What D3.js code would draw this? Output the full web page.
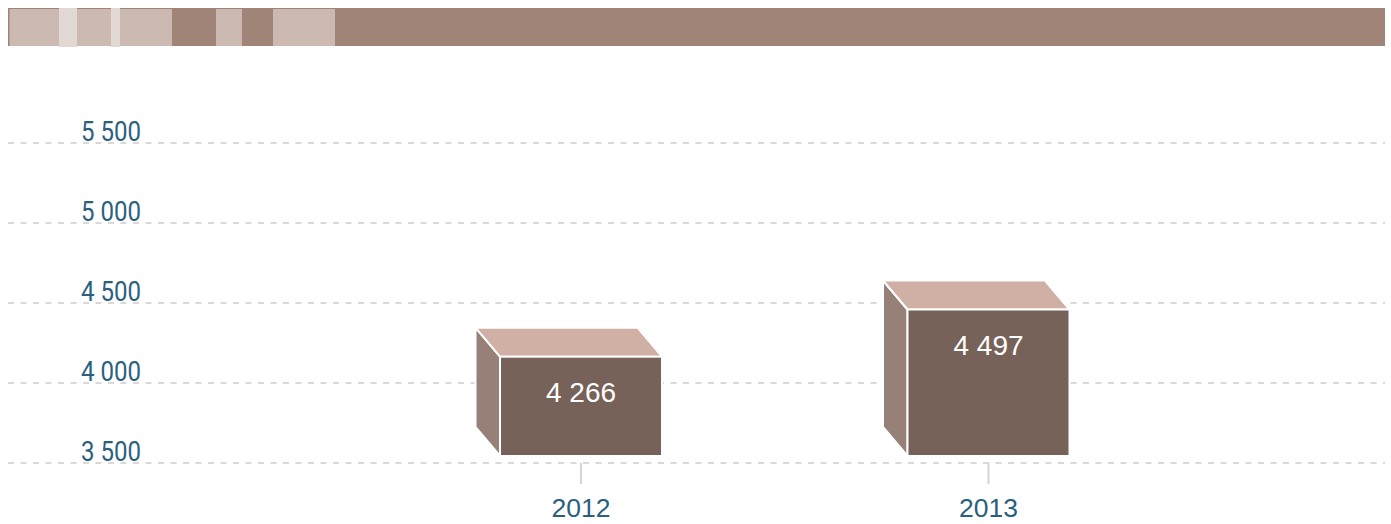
<!DOCTYPE html>
<html>
<head>
<meta charset="utf-8">
<script src="https://cdn.jsdelivr.net/npm/d3@7"></script>
<style>
  html, body { margin: 0; padding: 0; background: #fff; }
  svg { display: block; }
</style>
</head>
<body>
<svg id="chart" width="1391" height="524"></svg>
<script>
    // data
    var years = ["2012", "2013"];
    var values = [4266, 4497];
    var valueLabels = ["4 266", "4 497"];
    var yTicks = [3500, 4000, 4500, 5000, 5500];
    var yTickLabels = ["3 500", "4 000", "4 500", "5 000", "5 500"];

    var svg = d3.select("#chart"),
        depthX = 24.5,
        depthY = 29,
        barWidth = 162;

    // header banner (decoration)
    var banner = svg.append("g").attr("class", "banner");
    banner.append("rect").attr("x", 8).attr("y", 8).attr("width", 1377).attr("height", 38).attr("fill", "#a18478");
    [[8, 59, "#cbb9b2"], [59, 18, "#e3d9d4"], [77, 34, "#cbb9b2"], [111, 9, "#e3d9d4"],
     [120, 52, "#cbb9b2"], [216, 26, "#cbb9b2"], [273, 62, "#cbb9b2"]].forEach(function (s) {
        banner.append("rect")
            .attr("x", s[0]).attr("y", s[2] === "#e3d9d4" ? 8 : 9)
            .attr("width", s[1]).attr("height", s[2] === "#e3d9d4" ? 39 : 37)
            .attr("fill", s[2]);
    });
    banner.append("rect").attr("x", 8).attr("y", 8).attr("width", 1.5).attr("height", 38).attr("fill", "#a18478");

    // scales
    var x = d3.scalePoint().domain(years).range([581, 988.5]);
    var y = d3.scaleLinear().domain([3500, 5500]).range([463, 143]);
    var yBar = d3.scaleLinear().domain([3780, 4497]).range([456, 309.5]);

    // grid lines
    var grid = svg.append("g").attr("class", "grid");
    grid.selectAll("line").data(yTicks).enter().append("line")
        .attr("x1", 8).attr("x2", 1385)
        .attr("y1", function (d) { return y(d); })
        .attr("y2", function (d) { return y(d); })
        .attr("stroke", "#d9d9d9")
        .attr("stroke-width", 2)
        .attr("stroke-dasharray", "6,6.5");

    grid.selectAll("text").data(yTicks).enter().append("text")
        .attr("x", 81)
        .attr("y", function (d) { return y(d) - 2; })
        .attr("font-family", "Roboto, 'Liberation Sans Narrow', sans-serif")
        .attr("font-size", 28)
        .attr("textLength", 60)
        .attr("lengthAdjust", "spacingAndGlyphs")
        .attr("fill", "#2b5f7e")
        .text(function (d, i) { return yTickLabels[i]; });

    // x axis ticks and labels
    var xAxis = svg.append("g").attr("class", "x-axis");
    xAxis.selectAll("line").data(years).enter().append("line")
        .attr("x1", function (d) { return x(d); })
        .attr("x2", function (d) { return x(d); })
        .attr("y1", 463).attr("y2", 484)
        .attr("stroke", "#d4d4d4")
        .attr("stroke-width", 2);
    xAxis.selectAll("text").data(years).enter().append("text")
        .attr("x", function (d) { return x(d); })
        .attr("y", 517)
        .attr("text-anchor", "middle")
        .attr("font-family", "'Liberation Sans', Arial, sans-serif")
        .attr("font-size", 26.5)
        .attr("fill", "#2b5f7e")
        .text(function (d) { return d; });

    // 3D boxes
    var bars = svg.append("g").attr("class", "bars")
        .selectAll("g").data(years).enter().append("g");

    function geom(d, i) {
        var l = x(d) - barWidth / 2, r = l + barWidth,
            t = yBar(values[i]), b = yBar.range()[0];
        return { l: l, r: r, t: t, b: b };
    }

    // side face
    bars.append("polygon")
        .attr("points", function (d, i) {
            var g = geom(d, i);
            return [[g.l - depthX, g.t - depthY], [g.l, g.t], [g.l, g.b], [g.l - depthX, g.b - depthY]].join(" ");
        })
        .attr("fill", "#968077")
        .attr("stroke", "#fff")
        .attr("stroke-width", 2)
        .attr("stroke-linejoin", "round");

    // top face
    bars.append("polygon")
        .attr("points", function (d, i) {
            var g = geom(d, i);
            return [[g.l - depthX, g.t - depthY], [g.r - depthX, g.t - depthY], [g.r, g.t], [g.l, g.t]].join(" ");
        })
        .attr("fill", "#d0b0a5")
        .attr("stroke", "#fff")
        .attr("stroke-width", 2)
        .attr("stroke-linejoin", "round");

    // front face
    bars.append("rect")
        .attr("x", function (d, i) { return geom(d, i).l; })
        .attr("y", function (d, i) { return geom(d, i).t; })
        .attr("width", barWidth)
        .attr("height", function (d, i) { var g = geom(d, i); return g.b - g.t; })
        .attr("fill", "#766259")
        .attr("stroke", "#fff")
        .attr("stroke-width", 2);

    bars.append("text")
        .attr("x", function (d) { return x(d); })
        .attr("y", function (d, i) { return geom(d, i).t + 45; })
        .attr("text-anchor", "middle")
        .attr("font-family", "'Liberation Sans', Arial, sans-serif")
        .attr("font-size", 28)
        .attr("fill", "#fff")
        .text(function (d, i) { return valueLabels[i]; });
</script>
</body>
</html>
